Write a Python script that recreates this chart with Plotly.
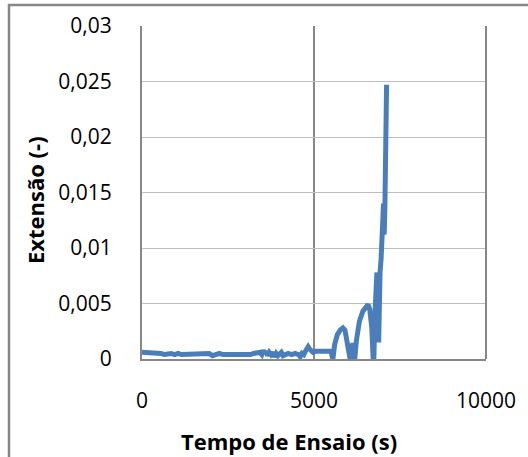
import plotly.graph_objects as go

# Test time (s) and strain (-)
tempo = [0, 50, 150, 250, 350, 450, 550, 650, 750, 850, 950, 1050, 1150, 1250, 1350,
         1450, 1550, 1650, 1750, 1850, 1950, 2050, 2150, 2250, 2350, 2450, 2550, 2650,
         2750, 2850, 2950, 3050, 3150, 3250, 3350, 3420, 3480, 3520, 3560, 3600, 3650,
         3700, 3750, 3800, 3850, 3900, 3950, 4000, 4050, 4100, 4150, 4250, 4350, 4450,
         4550, 4600, 4650, 4700, 4750, 4800, 4830, 4870, 4920, 4970, 5050, 5150, 5250,
         5350, 5450, 5500, 5530, 5550, 5600, 5680, 5760, 5840, 5900, 5950, 6000, 6050,
         6090, 6130, 6160, 6185, 6230, 6320, 6420, 6500, 6570, 6620, 6680, 6720, 6740,
         6770, 6800, 6830, 6850, 6870, 6880, 6900, 6920, 6950, 6980, 7000, 7020, 7040,
         7060, 7080, 7110]
extensao = [0.0006, 0.0006, 0.0005, 0.0005, 0.0006, 0.0005, 0.0005, 0.0004, 0.0005, 0.0005,
            0.0004, 0.0005, 0.0004, 0.0004, 0.0005, 0.0004, 0.0004, 0.0005, 0.0004, 0.0004,
            0.0005, 0.0003, 0.0004, 0.0005, 0.0004, 0.0004, 0.0004, 0.0004, 0.0004, 0.0003,
            0.0004, 0.0004, 0.0004, 0.0005, 0.0005, 0.0006, 0.0004, 0.0008, 0.0005, 0.0007,
            0.0003, 0.0006, 0.0004, 0.0006, 0.0002, 0.0005, 0.0003, 0.0005, 0.0006, 0.0003,
            0.0004, 0.0005, 0.0004, 0.0005, 0.0004, 0.0002, 0.0005, 0.0004, 0.0007, 0.0009,
            0.0011, 0.0009, 0.0007, 0.0006, 0.0007, 0.0007, 0.0007, 0.0007, 0.0008, 0.0007,
            0.0002, 0.0, 0.0013, 0.0022, 0.0026, 0.0028, 0.0026, 0.0019, 0.0008, 0.0,
            0.0009, 0.0014, 0.0011, 0.0, 0.0016, 0.0034, 0.0043, 0.0046, 0.0049, 0.0045,
            0.0028, 0.0, 0.0, 0.0040, 0.0065, 0.0078, 0.0030, 0.0070, 0.0015, 0.0075,
            0.0078, 0.0090, 0.0104, 0.0125, 0.0140, 0.0112, 0.0135, 0.0180, 0.0247]

x_ticks = [0, 5000, 10000]
x_labels = ["0", "5000", "10000"]
y_ticks = [0, 0.005, 0.01, 0.015, 0.02, 0.025, 0.03]
y_labels = ["0", "0,005", "0,01", "0,015", "0,02", "0,025", "0,03"]

fig = go.Figure()
fig.add_trace(go.Scatter(x=tempo, y=extensao, mode="lines",
                         line=dict(color="#4A7EBB", width=5), showlegend=False))

W, H = 528, 457
L, R, T, B = 142, 42, 26, 98
pw, ph = W - L - R, H - T - B

fig.update_layout(
    width=W, height=H,
    margin=dict(l=L, r=R, t=T, b=B),
    paper_bgcolor="white", plot_bgcolor="white",
    font=dict(family="Open Sans", size=21, color="black"),
    xaxis=dict(range=[0, 10000], tickvals=x_ticks, ticktext=x_labels,
               showgrid=True, gridcolor="#878787", gridwidth=1.5,
               showline=True, linecolor="#878787", linewidth=2,
               zeroline=False, ticks="", ticklabelstandoff=22),
    yaxis=dict(range=[0, 0.03], tickvals=y_ticks, ticktext=y_labels,
               showgrid=True, gridcolor="#BEBEBE", gridwidth=1,
               showline=True, linecolor="#878787", linewidth=2,
               zeroline=False, ticks="", ticklabelstandoff=24),
    annotations=[
        dict(text="<b>Tempo de Ensaio (s)</b>", xref="paper", yref="paper",
             x=(289 - L) / pw, y=(H - B - 441) / ph, showarrow=False,
             xanchor="center", yanchor="middle", font=dict(size=22)),
        dict(text="<b>Extensão (-)</b>", xref="paper", yref="paper",
             x=(35 - L) / pw, y=(H - B - 200) / ph, showarrow=False, textangle=-90,
             xanchor="center", yanchor="middle", font=dict(size=22)),
    ],
)

# right border of plot area
fig.add_shape(type="line", xref="paper", yref="paper", x0=1, x1=1, y0=0, y1=1,
              line=dict(color="#878787", width=2))
# outer chart frame
fig.add_shape(type="rect", xref="paper", yref="paper",
              x0=(9 - L) / pw, x1=3, y0=-2, y1=(H - B - 5) / ph,
              line=dict(color="#878787", width=2.5), layer="below")

fig.write_html("out.html")
